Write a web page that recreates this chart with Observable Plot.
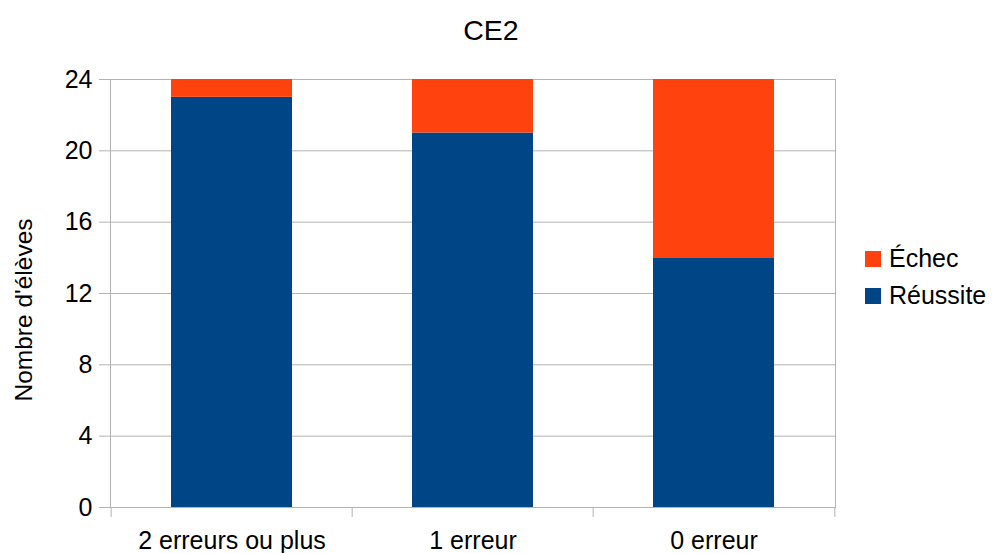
<!DOCTYPE html>
<html>
<head>
<meta charset="utf-8">
<script src="https://cdn.jsdelivr.net/npm/d3@7"></script>
<script src="https://cdn.jsdelivr.net/npm/@observablehq/plot@0.6"></script>
<style>
  body { margin: 0; background: #fff; }
  #wrap { position: relative; width: 994px; height: 553px; font-family: "Liberation Sans", Arial, sans-serif; color: #000; }
  #wrap svg { position: absolute; left: 0; top: 0; }
  .ov { position: absolute; white-space: nowrap; line-height: 1; }
  .sw { position: absolute; width: 16px; height: 16px; }
</style>
</head>
<body>
<div id="wrap"></div>
<script>
const title = "CE2";
const yLabel = "Nombre d'élèves";
const categories = ["2 erreurs ou plus", "1 erreur", "0 erreur"];
const reussite = [23, 21, 14];
const echec = [1, 3, 10];
const series = ["Échec", "Réussite"];
const colors = ["#ff420e", "#004586"];
const yTicks = [0, 4, 8, 12, 16, 20, 24];

const W = 994, H = 553, mL = 110, mR = 159, mT = 79, mB = 46;
const step = (W - mL - mR) / categories.length;
const gridColor = "#b3b3b3";

const data = [];
categories.forEach((c, i) => {
  data.push({cat: c, series: "Réussite", value: reussite[i]});
  data.push({cat: c, series: "Échec", value: echec[i]});
});

const chart = Plot.plot({
  width: W, height: H,
  marginLeft: mL, marginRight: mR, marginTop: mT, marginBottom: mB,
  style: {fontFamily: "Liberation Sans, Arial, sans-serif", fontSize: "25px", color: "#000", background: "#fff"},
  x: {domain: categories, paddingInner: 0.5, paddingOuter: 0.25, label: null},
  y: {domain: [0, 24], label: null},
  color: {domain: series, range: colors},
  marks: [
    Plot.gridY(yTicks, {stroke: gridColor, strokeOpacity: 1, strokeWidth: 1}),
    Plot.frame({stroke: gridColor, strokeWidth: 1}),
    Plot.ruleX(categories, {x: d => d, y1: 0, y2: 0, dx: -step / 2, insetBottom: -10, stroke: gridColor}),
    Plot.ruleX(categories.slice(-1), {x: d => d, y1: 0, y2: 0, dx: step / 2, insetBottom: -10, stroke: gridColor}),
    Plot.barY(data, {x: "cat", y: "value", fill: "series", order: ["Réussite", "Échec"]}),
    Plot.axisY({ticks: yTicks, tickSize: 11, tickPadding: 7, stroke: gridColor, strokeOpacity: 1, label: null, fill: "#000"}),
    Plot.axisX({tickSize: 0, tickPadding: 24, label: null, fill: "#000"})
  ]
});

const wrap = document.getElementById("wrap");
wrap.appendChild(chart);

function addText(txt, css) {
  const d = document.createElement("div");
  d.className = "ov";
  d.textContent = txt;
  Object.assign(d.style, css);
  wrap.appendChild(d);
  return d;
}
// title
addText(title, {fontSize: "28.5px", left: "491px", top: "16px", transform: "translateX(-50%)"});
// y label
addText(yLabel, {fontSize: "24.5px", left: "0px", top: "0px", transformOrigin: "0 0",
  transform: "translate(33px, 310px) rotate(-90deg) translate(-50%, -20.7px)"});
// legend
const legendTops = [245.5, 282.8];
series.forEach((s, i) => {
  const sw = document.createElement("div");
  sw.className = "sw";
  sw.style.background = colors[i];
  sw.style.left = "865px";
  sw.style.top = (legendTops[i] + 21.2 - 16) + "px";
  wrap.appendChild(sw);
  addText(s, {fontSize: "25px", left: "889px", top: legendTops[i] + "px"});
});
</script>
</body>
</html>
